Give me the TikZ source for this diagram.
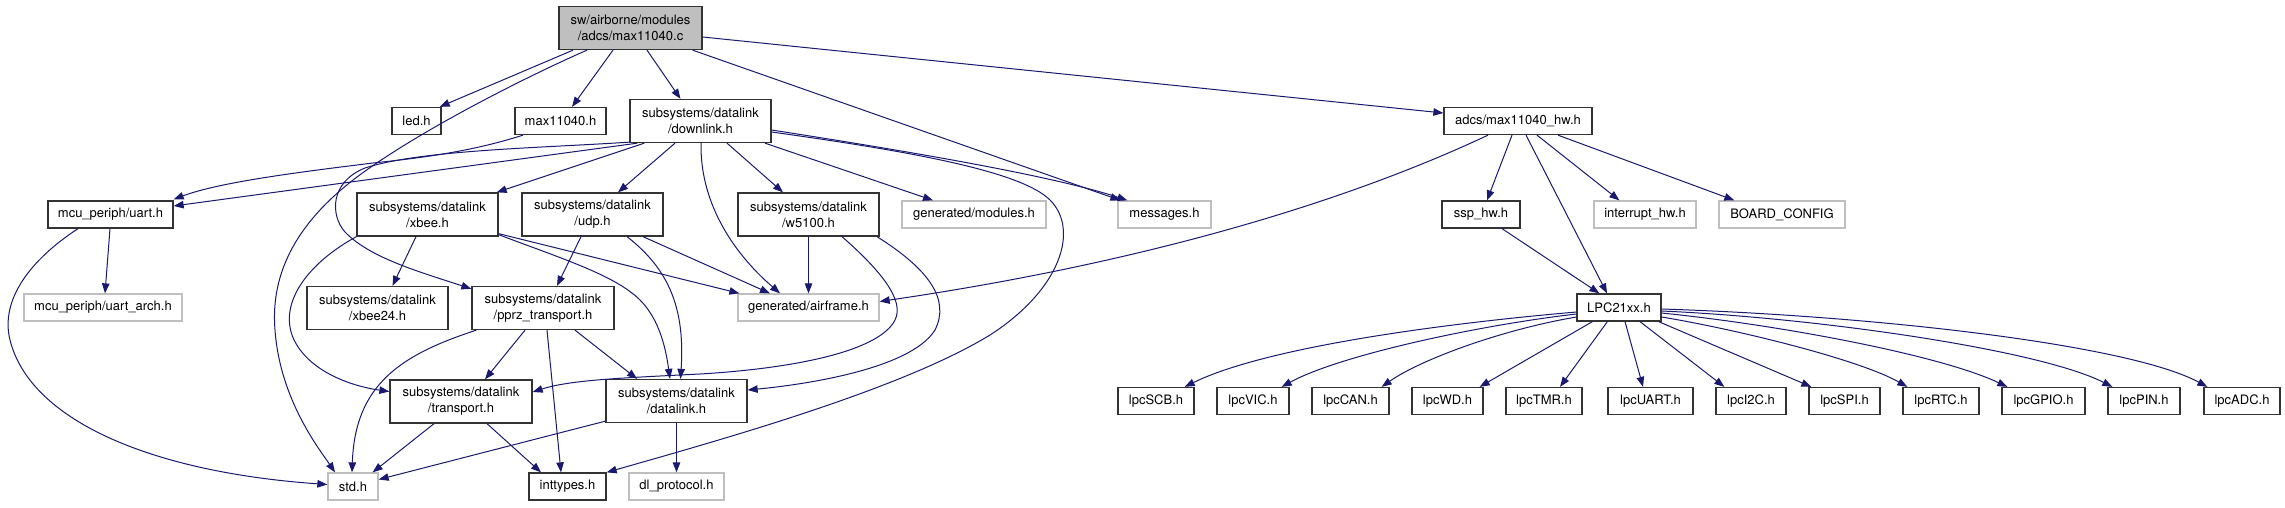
\documentclass[tikz,border=0pt]{standalone}
\usepackage{fontspec}
\setmainfont{TeX Gyre Heros}
\usepackage{tikz}
\usetikzlibrary{positioning,arrows.meta,calc}
\definecolor{inclblue}{RGB}{25,25,112}
\definecolor{extgray}{RGB}{191,191,191}
\tikzset{
  file/.style={draw=black!80, line width=1.3pt, fill=white, inner sep=0pt, minimum height=27pt,
               font=\fontsize{13}{16}\selectfont, align=center},
  twoline/.style={minimum height=43pt},
  extfile/.style={file, draw=extgray},
  rootfile/.style={file, twoline, fill=extgray},
  incl/.style={-{Triangle[length=10pt,width=7.5pt]}, line width=1pt, inclblue}
}

\begin{document}
\begin{tikzpicture}[x=1pt,y=-1pt]
\useasboundingbox (0,0) rectangle (2285,507);
\node[rootfile, minimum width=143pt] (root) at (630.5,28) {sw/airborne/modules\\/adcs/max11040.c};
\node[file, minimum width=49pt] (led) at (416.5,121) {led.h};
\node[file, minimum width=91pt] (max11040) at (560.5,121) {max11040.h};
\node[file, twoline, minimum width=141pt] (downlink) at (700.5,121) {subsystems/datalink\\/downlink.h};
\node[file, minimum width=148pt] (hw) at (1518,121) {adcs/max11040\_hw.h};
\node[file, minimum width=125pt] (uart) at (110.5,214.5) {mcu\_periph/uart.h};
\node[file, twoline, minimum width=141pt] (xbee) at (427.5,214.5) {subsystems/datalink\\/xbee.h};
\node[file, twoline, minimum width=141pt] (udp) at (592.5,214.5) {subsystems/datalink\\/udp.h};
\node[file, twoline, minimum width=141pt] (w5100) at (808.5,214.5) {subsystems/datalink\\/w5100.h};
\node[extfile, minimum width=144pt] (modules) at (974,214.5) {generated/modules.h};
\node[extfile, minimum width=93pt] (messages) at (1164.5,214.5) {messages.h};
\node[file, minimum width=78pt] (ssp) at (1481,214.5) {ssp\_hw.h};
\node[extfile, minimum width=102pt] (interrupt) at (1645,214.5) {interrupt\_hw.h};
\node[extfile, minimum width=126pt] (boardcfg) at (1782,214.5) {BOARD\_CONFIG};
\node[extfile, minimum width=158pt] (uartarch) at (103,307.5) {mcu\_periph/uart\_arch.h};
\node[file, twoline, minimum width=141pt] (xbee24) at (377.5,308) {subsystems/datalink\\/xbee24.h};
\node[file, twoline, minimum width=142pt] (pprz) at (543,308) {subsystems/datalink\\/pprz\_transport.h};
\node[extfile, minimum width=141pt] (airframe) at (808.5,307.5) {generated/airframe.h};
\node[file, minimum width=84pt] (lpc21) at (1619,307.5) {LPC21xx.h};
\node[file, twoline, minimum width=142pt] (transport) at (461,401.5) {subsystems/datalink\\/transport.h};
\node[file, twoline, minimum width=141pt] (datalink) at (676.5,401) {subsystems/datalink\\/datalink.h};
\foreach \n/\x/\w in {lpcSCB/1156/76, lpcVIC/1253/72, lpcCAN/1350.5/77, lpcWD/1447.5/71,
                      lpcTMR/1544/76, lpcUART/1650.5/85, lpcI2C/1751/70, lpcSPI/1844.5/71,
                      lpcRTC/1941/76, lpcGPIO/2043.5/83, lpcPIN/2144/72, lpcADC/2242/76}
  \node[file, minimum width=\w pt] (\n) at (\x,401) {\n.h};
\node[extfile, minimum width=50pt] (std) at (353,486.5) {std.h};
\node[file, minimum width=77pt] (inttypes) at (567.5,486.5) {inttypes.h};
\node[extfile, minimum width=95pt] (dlproto) at (676.5,486.5) {dl\_protocol.h};

\draw[incl] ($(root.south)+(-57.5,0)$) -- ($(led.north east)+(-2,0)$);
\draw[incl] ($(root.south)+(-17.5,0)$) -- ($(max11040.north)+(11.5,0)$);
\draw[incl] ($(root.south)+(16.5,0)$) -- ($(downlink.north)+(-20,0)$);
\draw[incl] ($(root.south east)+(-10,0)$) -- ($(messages.north west)+(3,0)$);
\draw[incl] ($(root.east)+(0,9)$) -- ($(hw.west)+(0,-8)$);
\draw[incl] ($(root.south)+(-43.5,0)$) .. controls (530,75) and (420,130) .. (357,177)
  .. controls (300,220) and (270,270) .. (275,330) .. controls (280,400) and (320,450) .. ($(std.north)+(-18,0)$);
\draw[incl] ($(max11040.south)+(-37.5,0)$) .. controls (470,152) and (420,158) .. (373,163)
  .. controls (300,172) and (220,182) .. ($(uart.north east)+(0,-1)$);
\draw[incl] ($(downlink.south west)+(8,0)$) -- ($(uart.east)+(0,-8.5)$);
\draw[incl] ($(downlink.south west)+(0,-1)$) .. controls (540,148) and (420,150) .. (365,168)
  .. controls (330,182) and (330,215) .. (345,232) .. controls (370,258) and (420,272) .. ($(pprz.north west)+(0,3)$);
\draw[incl] ($(downlink.south west)+(15,0)$) -- ($(xbee.north east)+(-2,0)$);
\draw[incl] ($(downlink.south)+(-25.5,0)$) -- ($(udp.north)+(25.5,0)$);
\draw[incl] ($(downlink.south)+(26.5,0)$) -- ($(w5100.north)+(-25.5,0)$);
\draw[incl] ($(downlink.south)+(0.5,0)$) .. controls (700,200) and (730,250) .. ($(airframe.north)+(-28.5,0)$);
\draw[incl] ($(downlink.south)+(64.5,0)$) -- ($(modules.north)+(-41,0)$);
\draw[incl] ($(downlink.east)+(0,9)$) .. controls (900,150) and (1050,175) .. ($(messages.north west)+(10,0)$);
\draw[incl] ($(downlink.east)+(0,11)$) .. controls (900,150) and (1020,170) .. (1050,200)
  .. controls (1080,230) and (1060,290) .. (990,335) .. controls (900,390) and (720,440) .. (inttypes.north east);
\draw[incl] ($(xbee.south)+(-11.5,0)$) -- ($(xbee24.north)+(15,0)$);
\draw[incl] (xbee.south west) .. controls (310,262) and (280,300) .. (292,335)
  .. controls (305,370) and (350,386) .. ($(transport.west)+(0,-10)$);
\draw[incl] ($(xbee.south east)+(0,-2)$) .. controls (560,258) and (615,275) .. (640,300)
  .. controls (660,320) and (666,350) .. ($(datalink.north)+(-6.5,0)$);
\draw[incl] ($(xbee.south east)+(0,-3)$) -- ($(airframe.north west)+(2,0)$);
\draw[incl] ($(udp.south)+(-11.5,0)$) -- ($(pprz.north)+(14,0)$);
\draw[incl] ($(udp.south)+(34.5,0)$) .. controls (670,270) and (685,310) .. ($(datalink.north)+(4,0)$);
\draw[incl] ($(udp.south)+(50.5,0)$) -- ($(airframe.north)+(-38.5,0)$);
\draw[incl] (w5100.south) -- (airframe.north);
\draw[incl] ($(w5100.south)+(33.5,0)$) .. controls (880,270) and (905,300) .. (895,320)
  .. controls (880,350) and (800,368) .. (700,374) .. controls (620,378) and (570,380) .. ($(transport.east)+(0,-9.5)$);
\draw[incl] ($(w5100.south)+(68.5,0)$) .. controls (930,270) and (950,300) .. (935,330)
  .. controls (910,370) and (800,385) .. ($(datalink.east)+(0,-11)$);
\draw[incl] ($(pprz.south west)+(5,0)$) .. controls (400,355) and (355,385) .. ($(std.north)+(-1,0)$);
\draw[incl] ($(pprz.south)+(-18,0)$) -- ($(transport.north)+(24,0)$);
\draw[incl] ($(pprz.south)+(4,0)$) -- ($(inttypes.north)+(-6.5,0)$);
\draw[incl] ($(pprz.south)+(32,0)$) -- ($(datalink.north)+(-39.5,0)$);
\draw[incl] ($(transport.south)+(-27,0)$) -- ($(std.north east)+(-6,0)$);
\draw[incl] ($(transport.south)+(26,0)$) -- ($(inttypes.north)+(-26.5,0)$);
\draw[incl] ($(datalink.south west)+(0,-2)$) -- ($(std.east)+(0,-7)$);
\draw[incl] (datalink.south) -- (dlproto.north);
\draw[incl] ($(uart.south)+(-0.5,0)$) -- ($(uartarch.north)+(2,0)$);
\draw[incl] ($(uart.south)+(-32.5,0)$) .. controls (30,260) and (0,300) .. (10,340)
  .. controls (30,420) and (150,472) .. ($(std.west)+(0,-2)$);
\draw[incl] ($(hw.south)+(-30,0)$) .. controls (1350,200) and (1150,262) .. ($(airframe.east)+(0,-6)$);
\draw[incl] ($(hw.south)+(-6,0)$) -- ($(ssp.north)+(6,0)$);
\draw[incl] ($(hw.south)+(8,0)$) -- ($(lpc21.north)+(-12,0)$);
\draw[incl] ($(hw.south)+(19,0)$) -- ($(interrupt.north west)+(26,0)$);
\draw[incl] ($(hw.south)+(40,0)$) -- ($(boardcfg.north west)+(16,0)$);
\draw[incl] ($(ssp.south)+(21,0)$) -- ($(lpc21.north west)+(23,0)$);
\draw[incl] ($(lpc21.west)+(0,4.5)$) .. controls (1460,322) and (1270,345) .. ($(lpcSCB.north east)+(-10,0)$);
\draw[incl] ($(lpc21.west)+(0,6.5)$) .. controls (1480,325) and (1340,355) .. ($(lpcVIC.north east)+(-8,0)$);
\draw[incl] ($(lpc21.west)+(0,9.5)$) .. controls (1500,330) and (1420,360) .. ($(lpcCAN.north east)+(-8,0)$);
\draw[incl] ($(lpc21.south west)+(16,0)$) -- ($(lpcWD.north east)+(-4,0)$);
\draw[incl] ($(lpc21.south west)+(31,0)$) -- ($(lpcTMR.north)+(16,0)$);
\draw[incl] ($(lpc21.south)+(6,0)$) -- ($(lpcUART.north)+(-7.5,0)$);
\draw[incl] ($(lpc21.south)+(21,0)$) -- ($(lpcI2C.north west)+(9,0)$);
\draw[incl] ($(lpc21.south east)+(-3,0)$) -- ($(lpcSPI.north west)+(3,0)$);
\draw[incl] ($(lpc21.east)+(0,9.5)$) .. controls (1740,330) and (1860,360) .. ($(lpcRTC.north west)+(5,0)$);
\draw[incl] ($(lpc21.east)+(0,5.5)$) .. controls (1780,325) and (1940,355) .. ($(lpcGPIO.north west)+(6,0)$);
\draw[incl] ($(lpc21.east)+(0,3.5)$) .. controls (1820,318) and (2040,350) .. ($(lpcPIN.north west)+(5,0)$);
\draw[incl] ($(lpc21.east)+(0,1.5)$) .. controls (1880,316) and (2130,345) .. ($(lpcADC.north west)+(4,0)$);
\end{tikzpicture}
\end{document}
